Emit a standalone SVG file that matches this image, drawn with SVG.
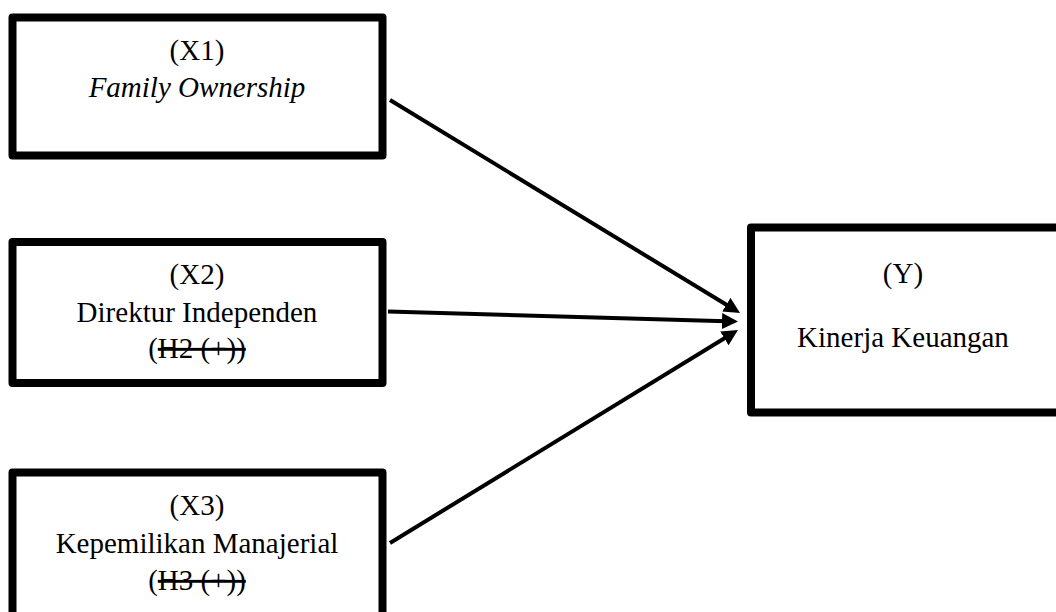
<svg xmlns="http://www.w3.org/2000/svg" width="1056" height="612" viewBox="0 0 1056 612">
<style>
.box{fill:#fff;stroke:#000;stroke-width:8;stroke-linejoin:round}
.t{font-family:"Liberation Serif","Times New Roman",serif;font-size:29px;fill:#000;text-anchor:middle}
.i{font-style:italic}
.c{stroke:#000;stroke-width:4;fill:none;marker-end:url(#ah)}
</style>
<defs>
<marker id="ah" markerUnits="userSpaceOnUse" markerWidth="18" markerHeight="17" refX="4" refY="8" orient="auto">
<path d="M0,0 L16,8 L0,16 z" fill="#000"/>
</marker>
</defs>
<rect width="1056" height="612" fill="#fff"/>
<g id="x1">
<rect class="box" x="12.5" y="17.5" width="370" height="138"/>
<text class="t" x="197" y="60">(X1)</text>
<text class="t i" x="197" y="97">Family Ownership</text>
</g>
<g id="x2">
<rect class="box" x="12.5" y="242" width="370" height="141"/>
<text class="t" x="197" y="284">(X2)</text>
<text class="t" x="197" y="322">Direktur Independen</text>
<text class="t" x="197" y="358">(<tspan text-decoration="line-through">H2 (+))</tspan></text>
</g>
<g id="x3">
<rect class="box" x="12.5" y="472.5" width="370" height="160"/>
<text class="t" x="197" y="515">(X3)</text>
<text class="t" x="197" y="553">Kepemilikan Manajerial</text>
<text class="t" x="197" y="590">(<tspan text-decoration="line-through">H3 (+))</tspan></text>
</g>
<g id="y">
<rect class="box" x="751" y="227.5" width="330" height="185"/>
<text class="t" x="903" y="283">(Y)</text>
<text class="t" x="903" y="347">Kinerja Keuangan</text>
</g>
<g id="connectors">
<line class="c" x1="390" y1="100" x2="729.75" y2="306.76"/>
<line class="c" x1="388" y1="311.5" x2="726" y2="321.16"/>
<line class="c" x1="390" y1="543" x2="727.76" y2="336.26"/>
</g>
</svg>
